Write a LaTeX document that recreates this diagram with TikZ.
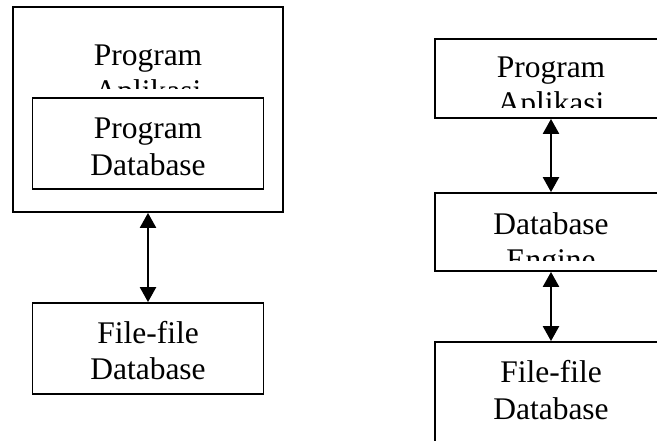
\documentclass[tikz,border=0pt]{standalone}
\usepackage{fontspec}
\setmainfont{Liberation Serif}
\usetikzlibrary{arrows.meta}
\begin{document}
\begin{tikzpicture}[x=1pt,y=-1pt,
  box/.style={draw,line width=1.8pt,fill=white,rectangle,inner sep=0pt},
  label/.style={anchor=base,inner sep=0pt,font=\fontsize{31.5}{36}\selectfont},
  link/.style={line width=2.4pt,{Triangle[width=16pt,length=15pt]}-{Triangle[width=16pt,length=15pt]}}]
\useasboundingbox (0,0) rectangle (657,440);

% left side: application with embedded database program
\node[box,minimum width=270pt,minimum height=205pt] (appL) at (148,109.5) {};
\begin{scope}
  \clip (14,8) rectangle (282,88);
  \node[label] (appLa) at (148,65) {Program};
  \node[label] (appLb) at (148,101) {Aplikasi};
\end{scope}
\node[box,minimum width=231pt,minimum height=91pt] (dbL) at (148,143.5) {};
\node[label] (dbLa) at (148,138) {Program};
\node[label] (dbLb) at (148,175) {Database};

\node[box,minimum width=231pt,minimum height=91pt] (fileL) at (148,348.5) {};
\node[label] (fileLa) at (148,343) {File-file};
\node[label] (fileLb) at (148,379) {Database};

\draw[link] (appL.south) -- (fileL.north);

% right side: application, database engine, files
\node[box,minimum width=232pt,minimum height=79pt] (appR) at (551,78.5) {};
\begin{scope}
  \clip (436,40) rectangle (666,107);
  \node[label] (appRa) at (551,77) {Program};
  \node[label] (appRb) at (551,113) {Aplikasi};
\end{scope}

\node[box,minimum width=232pt,minimum height=78pt] (engR) at (551,232) {};
\begin{scope}
  \clip (436,194) rectangle (666,260);
  \node[label] (engRa) at (551,234) {Database};
  \node[label] (engRb) at (551,270) {Engine};
\end{scope}

\node[box,minimum width=232pt,minimum height=100pt] (fileR) at (551,392) {};
\node[label] (fileRa) at (551,382) {File-file};
\node[label] (fileRb) at (551,419) {Database};

\draw[link] (appR.south) -- (engR.north);
\draw[link] (engR.south) -- (fileR.north);
\end{tikzpicture}
\end{document}
